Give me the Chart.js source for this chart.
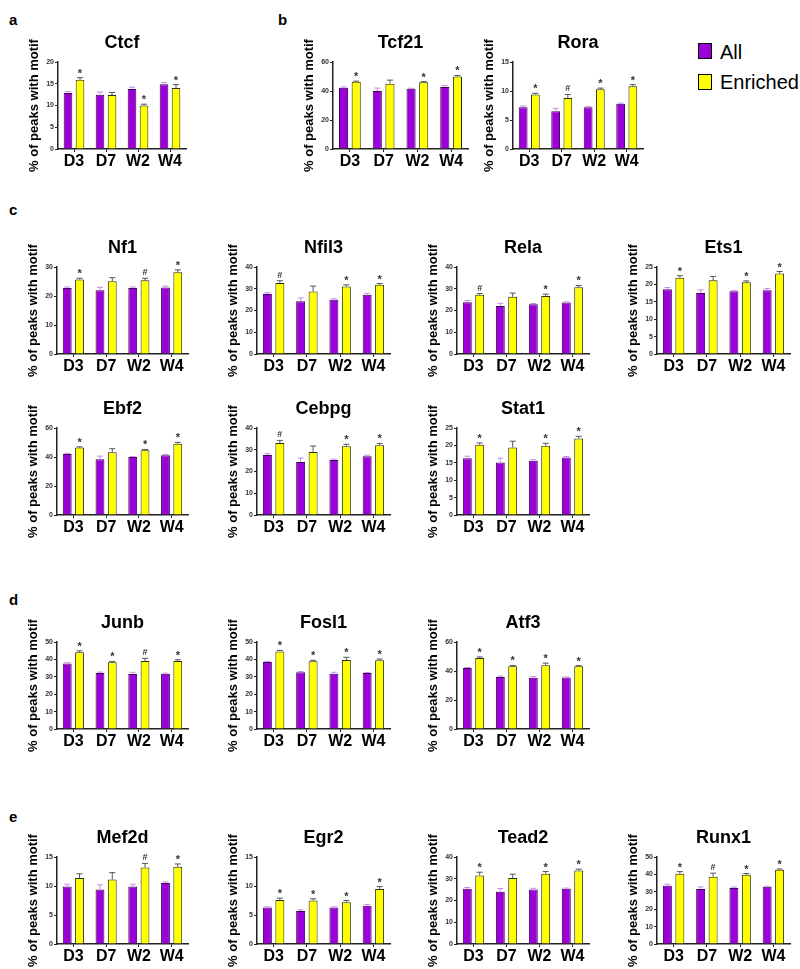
<!DOCTYPE html>
<html><head><meta charset="utf-8">
<script src="https://cdn.jsdelivr.net/npm/chart.js@4"></script>
<style>
body{margin:0;background:#fff;width:800px;height:969px;position:relative;overflow:hidden;font-family:"Liberation Sans",Arial,sans-serif;}
canvas{position:absolute;}
.lt{position:absolute;font-weight:bold;font-size:15px;line-height:18px;color:#000;}
.leg{position:absolute;font-size:20px;line-height:20px;color:#000;white-space:nowrap;}
.box{position:absolute;width:12px;height:14px;border:1px solid #000;}
</style></head><body>
<div class="lt" style="left:9px;top:11px">a</div>
<div class="lt" style="left:278px;top:11px">b</div>
<div class="lt" style="left:9px;top:201px">c</div>
<div class="lt" style="left:9px;top:591px">d</div>
<div class="lt" style="left:9px;top:808px">e</div>
<div class="box" style="left:698px;top:43px;background:#9c00d9"></div>
<div class="leg" style="left:720px;top:42px">All</div>
<div class="box" style="left:698px;top:74px;background:#ffff00"></div>
<div class="leg" style="left:720px;top:72px">Enriched</div>
<script>
const timepoints = ['D3', 'D7', 'W2', 'W4'];
const seriesNames = ['All', 'Enriched'];

const ctcfAll = [12.9, 12.5, 13.8, 14.9];
const ctcfAllErr = [0.3, 0.6, 0.4, 0.4];
const ctcfEnriched = [15.9, 12.4, 10.0, 14.0];
const ctcfEnrichedErr = [0.5, 0.6, 0.3, 0.8];
const ctcfMarks = ['*', '', '*', '*'];
const ctcfTicks = [0, 5, 10, 15, 20];

const tcf21All = [42.3, 40.0, 41.6, 42.8];
const tcf21AllErr = [0.5, 2.0, 0.3, 1.0];
const tcf21Enriched = [46.3, 45.0, 46.0, 50.0];
const tcf21EnrichedErr = [0.5, 2.5, 0.5, 0.7];
const tcf21Marks = ['*', '', '*', '*'];
const tcf21Ticks = [0, 20, 40, 60];

const roraAll = [7.2, 6.5, 7.2, 7.8];
const roraAllErr = [0.2, 0.5, 0.1, 0.1];
const roraEnriched = [9.4, 8.8, 10.3, 10.8];
const roraEnrichedErr = [0.2, 0.6, 0.2, 0.3];
const roraMarks = ['*', '#', '*', '*'];
const roraTicks = [0, 5, 10, 15];

const nf1All = [22.8, 22.0, 22.8, 22.9];
const nf1AllErr = [0.3, 1.0, 0.3, 0.5];
const nf1Enriched = [25.7, 25.1, 25.4, 28.2];
const nf1EnrichedErr = [0.4, 1.2, 0.7, 0.8];
const nf1Marks = ['*', '', '#', '*'];
const nf1Ticks = [0, 10, 20, 30];

const nfil3All = [27.6, 24.3, 24.9, 27.2];
const nfil3AllErr = [0.6, 1.5, 0.5, 0.7];
const nfil3Enriched = [32.7, 28.7, 31.0, 31.8];
const nfil3EnrichedErr = [1.0, 2.5, 0.8, 0.6];
const nfil3Marks = ['#', '', '*', '*'];
const nfil3Ticks = [0, 10, 20, 30, 40];

const relaAll = [23.8, 22.1, 22.9, 23.7];
const relaAllErr = [0.8, 1.2, 0.3, 0.3];
const relaEnriched = [27.2, 26.3, 26.7, 30.7];
const relaEnrichedErr = [0.6, 1.7, 0.8, 0.8];
const relaMarks = ['#', '', '*', '*'];
const relaTicks = [0, 10, 20, 30, 40];

const ets1All = [18.6, 17.5, 18.0, 18.3];
const ets1AllErr = [0.5, 0.9, 0.2, 0.5];
const ets1Enriched = [21.9, 21.2, 20.6, 23.1];
const ets1EnrichedErr = [0.6, 1.1, 0.4, 0.6];
const ets1Marks = ['*', '', '*', '*'];
const ets1Ticks = [0, 5, 10, 15, 20, 25];

const ebf2All = [42.1, 38.4, 40.0, 41.2];
const ebf2AllErr = [0.5, 2.2, 0.3, 0.5];
const ebf2Enriched = [46.5, 43.2, 44.6, 49.2];
const ebf2EnrichedErr = [0.5, 2.5, 0.6, 0.9];
const ebf2Marks = ['*', '', '*', '*'];
const ebf2Ticks = [0, 20, 40, 60];

const cebpgAll = [27.6, 24.4, 25.3, 27.0];
const cebpgAllErr = [0.6, 1.8, 0.4, 0.5];
const cebpgEnriched = [33.1, 29.0, 31.6, 32.1];
const cebpgEnrichedErr = [1.2, 2.7, 0.9, 0.8];
const cebpgMarks = ['#', '', '*', '*'];
const cebpgTicks = [0, 10, 20, 30, 40];

const stat1All = [16.3, 15.1, 15.6, 16.5];
const stat1AllErr = [0.6, 1.2, 0.3, 0.3];
const stat1Enriched = [20.2, 19.4, 19.9, 22.0];
const stat1EnrichedErr = [0.5, 1.8, 0.7, 0.6];
const stat1Marks = ['*', '', '*', '*'];
const stat1Ticks = [0, 5, 10, 15, 20, 25];

const junbAll = [37.7, 32.2, 31.6, 31.8];
const junbAllErr = [0.4, 0.5, 1.0, 0.3];
const junbEnriched = [44.1, 38.3, 39.1, 39.1];
const junbEnrichedErr = [0.8, 0.5, 1.5, 0.7];
const junbMarks = ['*', '*', '#', '*'];
const junbTicks = [0, 10, 20, 30, 40, 50];

const fosl1All = [38.5, 32.6, 31.8, 32.2];
const fosl1AllErr = [0.4, 0.4, 0.8, 0.3];
const fosl1Enriched = [44.6, 38.9, 39.7, 39.5];
const fosl1EnrichedErr = [0.6, 0.6, 1.5, 0.7];
const fosl1Marks = ['*', '*', '*', '*'];
const fosl1Ticks = [0, 10, 20, 30, 40, 50];

const atf3All = [42.1, 35.9, 35.4, 35.6];
const atf3AllErr = [0.3, 0.6, 0.7, 0.3];
const atf3Enriched = [49.0, 43.2, 43.9, 43.2];
const atf3EnrichedErr = [0.7, 0.6, 1.5, 0.5];
const atf3Marks = ['*', '*', '*', '*'];
const atf3Ticks = [0, 20, 40, 60];

const mef2dAll = [9.9, 9.4, 9.9, 10.5];
const mef2dAllErr = [0.4, 0.8, 0.4, 0.2];
const mef2dEnriched = [11.4, 11.1, 13.2, 13.3];
const mef2dEnrichedErr = [0.7, 1.2, 0.7, 0.5];
const mef2dMarks = ['', '', '#', '*'];
const mef2dTicks = [0, 5, 10, 15];

const egr2All = [6.3, 5.7, 6.3, 6.6];
const egr2AllErr = [0.1, 0.2, 0.1, 0.2];
const egr2Enriched = [7.6, 7.5, 7.2, 9.5];
const egr2EnrichedErr = [0.3, 0.3, 0.3, 0.4];
const egr2Marks = ['*', '*', '*', '*'];
const egr2Ticks = [0, 5, 10, 15];

const tead2All = [25.4, 24.0, 25.1, 25.4];
const tead2AllErr = [0.6, 1.5, 0.5, 0.3];
const tead2Enriched = [31.5, 30.3, 32.3, 33.8];
const tead2EnrichedErr = [1.5, 1.8, 1.0, 0.6];
const tead2Marks = ['*', '', '*', '*'];
const tead2Ticks = [0, 10, 20, 30, 40];

const runx1All = [33.5, 31.6, 32.2, 32.9];
const runx1AllErr = [0.8, 1.2, 0.5, 0.3];
const runx1Enriched = [40.4, 38.7, 39.8, 42.7];
const runx1EnrichedErr = [1.2, 2.0, 0.7, 0.4];
const runx1Marks = ['*', '#', '*', '*'];
const runx1Ticks = [0, 10, 20, 30, 40, 50];

// panel placement (axis x, plot top, plot width)
const panels = [
  ['Ctcf', ctcfAll, ctcfAllErr, ctcfEnriched, ctcfEnrichedErr, ctcfMarks, ctcfTicks, 58, 62, 128],
  ['Tcf21', tcf21All, tcf21AllErr, tcf21Enriched, tcf21EnrichedErr, tcf21Marks, tcf21Ticks, 333, 62, 135],
  ['Rora', roraAll, roraAllErr, roraEnriched, roraEnrichedErr, roraMarks, roraTicks, 513, 62, 130],
  ['Nf1', nf1All, nf1AllErr, nf1Enriched, nf1EnrichedErr, nf1Marks, nf1Ticks, 57, 267, 131],
  ['Nfil3', nfil3All, nfil3AllErr, nfil3Enriched, nfil3EnrichedErr, nfil3Marks, nfil3Ticks, 257, 267, 133],
  ['Rela', relaAll, relaAllErr, relaEnriched, relaEnrichedErr, relaMarks, relaTicks, 457, 267, 132],
  ['Ets1', ets1All, ets1AllErr, ets1Enriched, ets1EnrichedErr, ets1Marks, ets1Ticks, 657, 267, 133],
  ['Ebf2', ebf2All, ebf2AllErr, ebf2Enriched, ebf2EnrichedErr, ebf2Marks, ebf2Ticks, 57, 428, 131],
  ['Cebpg', cebpgAll, cebpgAllErr, cebpgEnriched, cebpgEnrichedErr, cebpgMarks, cebpgTicks, 257, 428, 133],
  ['Stat1', stat1All, stat1AllErr, stat1Enriched, stat1EnrichedErr, stat1Marks, stat1Ticks, 457, 428, 132],
  ['Junb', junbAll, junbAllErr, junbEnriched, junbEnrichedErr, junbMarks, junbTicks, 57, 642, 131],
  ['Fosl1', fosl1All, fosl1AllErr, fosl1Enriched, fosl1EnrichedErr, fosl1Marks, fosl1Ticks, 257, 642, 133],
  ['Atf3', atf3All, atf3AllErr, atf3Enriched, atf3EnrichedErr, atf3Marks, atf3Ticks, 457, 642, 132],
  ['Mef2d', mef2dAll, mef2dAllErr, mef2dEnriched, mef2dEnrichedErr, mef2dMarks, mef2dTicks, 57, 857, 131],
  ['Egr2', egr2All, egr2AllErr, egr2Enriched, egr2EnrichedErr, egr2Marks, egr2Ticks, 257, 857, 133],
  ['Tead2', tead2All, tead2AllErr, tead2Enriched, tead2EnrichedErr, tead2Marks, tead2Ticks, 457, 857, 132],
  ['Runx1', runx1All, runx1AllErr, runx1Enriched, runx1EnrichedErr, runx1Marks, runx1Ticks, 657, 857, 133]
];

const FONT = '"Liberation Sans", Arial, sans-serif';
const PLOT_H = 87, LEFT_W = 52, TOP_H = 40, BOTTOM_H = 32, RIGHT_PAD = 6;

const errorBarPlugin = {
  id: 'errorBars',
  afterDatasetsDraw(chart) {
    const ctx = chart.ctx;
    const yScale = chart.scales.y;
    chart.data.datasets.forEach((ds, di) => {
      const meta = chart.getDatasetMeta(di);
      meta.data.forEach((bar, i) => {
        const v = ds.data[i], e = ds.errors[i];
        const yTop = yScale.getPixelForValue(v + e);
        const yV = yScale.getPixelForValue(v);
        ctx.save();
        ctx.strokeStyle = ds.errColor;
        ctx.lineWidth = 1;
        ctx.beginPath();
        ctx.moveTo(bar.x, yV);
        ctx.lineTo(bar.x, yTop);
        ctx.moveTo(bar.x - 3, yTop);
        ctx.lineTo(bar.x + 3, yTop);
        ctx.stroke();
        const m = ds.marks ? ds.marks[i] : '';
        if (m) {
          ctx.fillStyle = '#333';
          ctx.textAlign = 'center';
          ctx.textBaseline = 'alphabetic';
          if (m === '*') {
            ctx.font = 'bold 11px ' + FONT;
            ctx.fillText(m, bar.x, yTop - 1);
          } else {
            ctx.font = 'bold 9px ' + FONT;
            ctx.fillText(m, bar.x, yTop - 3);
          }
        }
        ctx.restore();
      });
    });
  }
};

panels.forEach(p => {
  const [gene, allV, allE, enrV, enrE, marks, ticks, ax, top, w] = p;
  const c = document.createElement('canvas');
  const cw = LEFT_W + w + RIGHT_PAD, ch = TOP_H + PLOT_H + BOTTOM_H;
  c.width = cw; c.height = ch;
  c.style.left = (ax - LEFT_W) + 'px';
  c.style.top = (top - TOP_H) + 'px';
  c.style.width = cw + 'px'; c.style.height = ch + 'px';
  document.body.appendChild(c);
  new Chart(c, {
    type: 'bar',
    data: {
      labels: timepoints,
      datasets: [
        { label: seriesNames[0], data: allV, errors: allE, marks: null,
          backgroundColor: '#9c00d9', borderColor: '#3a0050', borderWidth: 1,
          errColor: '#c38de6', categoryPercentage: 0.75, barPercentage: 0.72 },
        { label: seriesNames[1], data: enrV, errors: enrE, marks: marks,
          backgroundColor: '#ffff00', borderColor: '#2a2a00', borderWidth: 1,
          errColor: '#555', categoryPercentage: 0.75, barPercentage: 0.72 }
      ]
    },
    options: {
      responsive: false,
      animation: false,
      layout: { padding: { left: 0, right: RIGHT_PAD, top: 0, bottom: 0 } },
      plugins: {
        legend: { display: false },
        tooltip: { enabled: false },
        title: {
          display: true, text: gene, fullSize: false, color: '#000',
          font: { family: FONT, size: 18, weight: 'bold', lineHeight: 1.2 },
          padding: { top: 10, bottom: 8.4 }
        }
      },
      scales: {
        x: {
          afterFit: s => { s.height = BOTTOM_H; },
          border: { display: true, color: '#222', width: 1.5 },
          grid: { display: true, drawOnChartArea: false, drawTicks: true, tickLength: 3, color: '#222', offset: false },
          ticks: { color: '#000', font: { family: FONT, size: 16, weight: 'bold' }, padding: 0, maxRotation: 0, autoSkip: false }
        },
        y: {
          min: ticks[0], max: ticks[ticks.length - 1],
          afterFit: s => { s.width = LEFT_W; },
          afterBuildTicks: s => { s.ticks = ticks.map(v => ({ value: v })); },
          border: { display: true, color: '#222', width: 1.5 },
          grid: { display: true, drawOnChartArea: false, drawTicks: true, tickLength: 3, color: '#222' },
          ticks: { color: '#333', font: { family: FONT, size: 7, weight: 'bold' }, padding: 1 },
          title: {
            display: true, text: '% of peaks with motif', color: '#000',
            font: { family: FONT, size: 13, weight: 'bold', lineHeight: 1.2 },
            padding: { top: 21, bottom: 0 }
          }
        }
      }
    },
    plugins: [errorBarPlugin]
  });
});
</script>
</body></html>
